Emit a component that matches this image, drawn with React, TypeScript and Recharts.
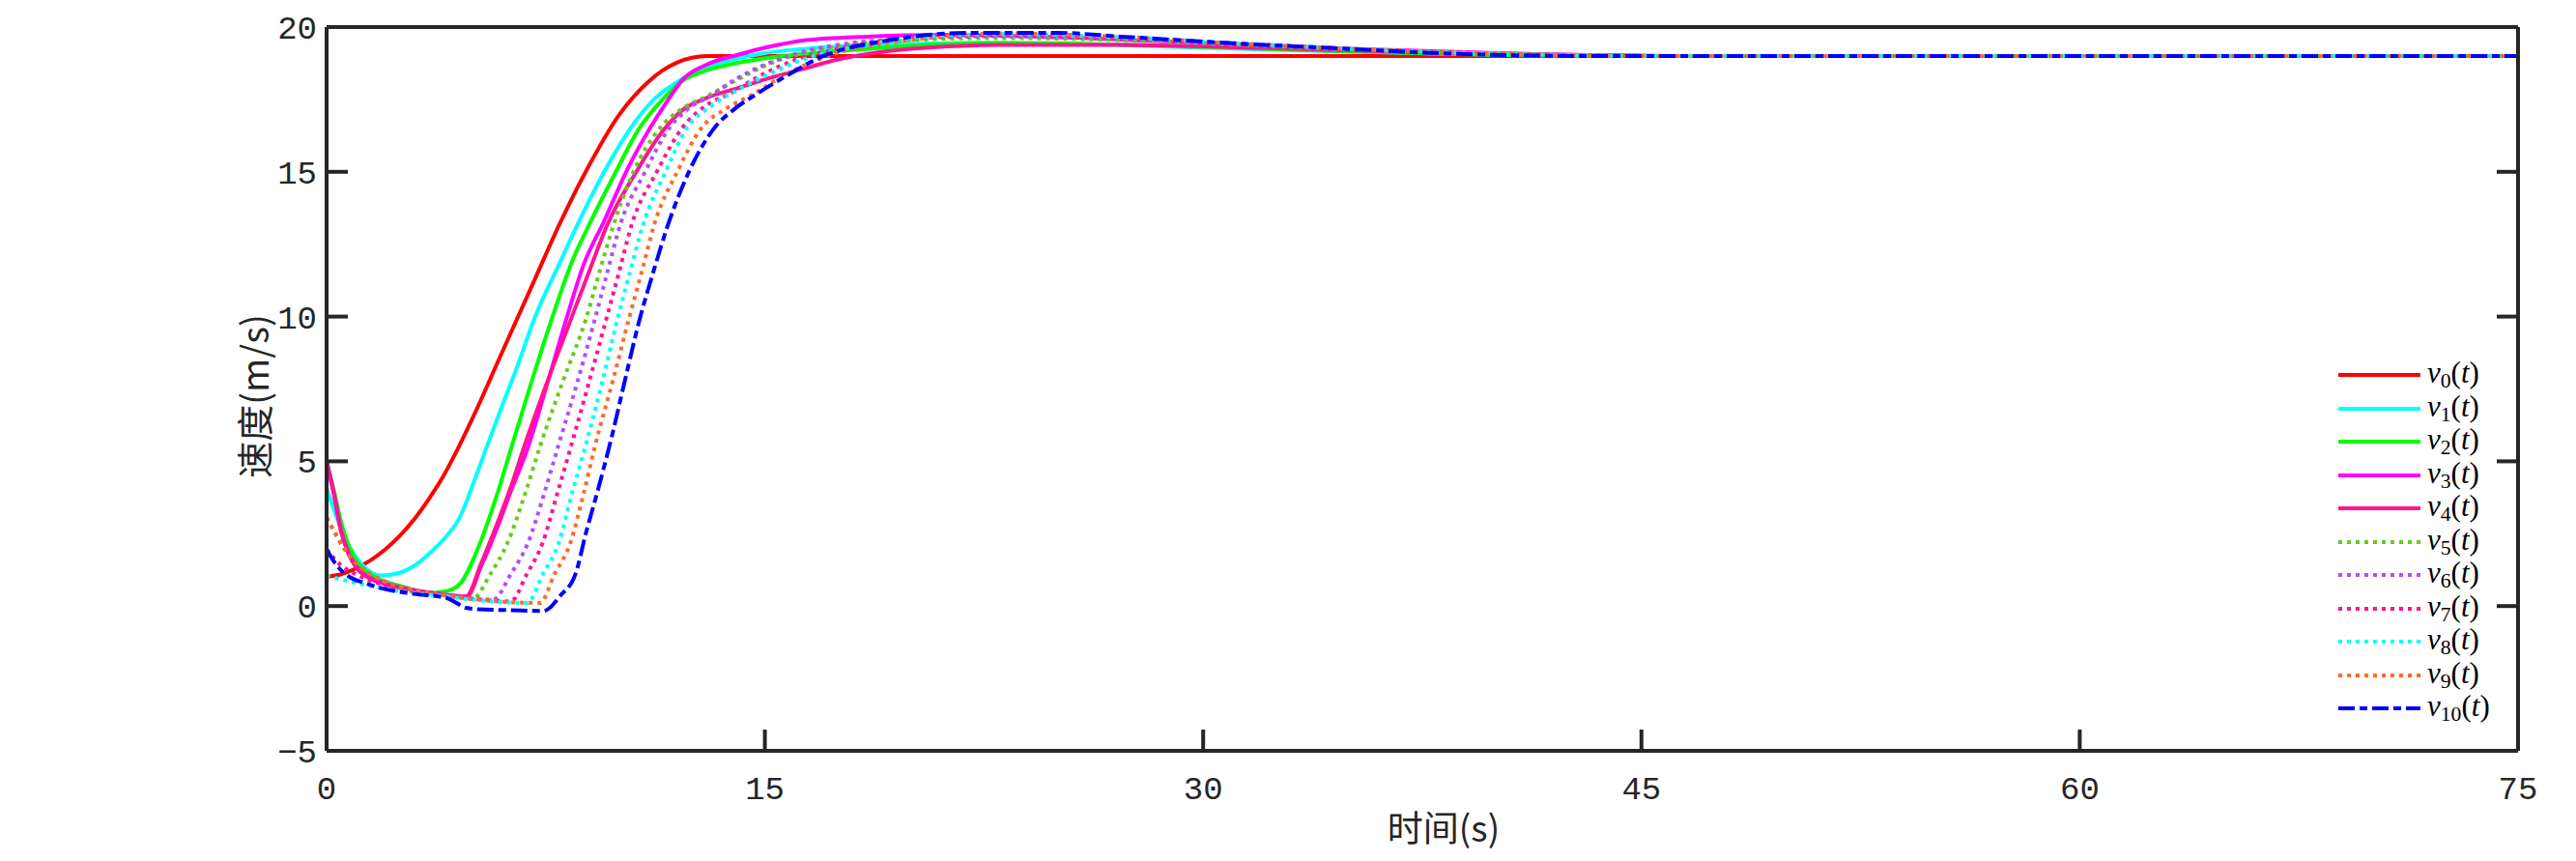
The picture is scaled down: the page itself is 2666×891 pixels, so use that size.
import { LineChart, Line, XAxis, YAxis } from "recharts";

// time (s) / speed (m/s) pairs
const v0: [number, number][] = [
  [0, 1.02], [0.5, 1.1], [1, 1.3], [1.5, 1.58], [2, 1.95], [2.5, 2.42], [3, 3.0], [3.5, 3.7], [4, 4.5],
  [4.5, 5.45], [5, 6.5], [6, 8.75], [7, 11.0], [8, 13.25], [9, 15.25], [10, 16.95], [11, 18.1], [11.5, 18.5],
  [12, 18.78], [12.5, 18.94], [13, 19.0], [75, 19.0],
];
const v1: [number, number][] = [
  [0, 4.06], [0.3, 3.2], [0.6, 2.4], [1, 1.7], [1.4, 1.25], [1.9, 1.06], [2.5, 1.15], [3, 1.39], [3.5, 1.8],
  [4, 2.3], [4.55, 3.05], [5.1, 4.45], [5.5, 5.55], [6, 6.9], [6.5, 8.2], [7.1, 9.9], [8, 11.9], [8.6, 13.2],
  [9.5, 15.0], [10.4, 16.5], [11.2, 17.5], [12, 18.1], [13, 18.6], [14, 18.9], [15, 19.1], [17, 19.3],
  [20, 19.42], [23, 19.45], [28, 19.35], [33, 19.2], [38, 19.08], [45, 19.0], [75, 19.0],
];
const v2: [number, number][] = [
  [0, 5], [0.25, 4.0], [0.5, 2.9], [0.75, 2.1], [1, 1.6], [1.5, 1.1], [2, 0.85], [2.5, 0.7], [3, 0.55],
  [3.5, 0.45], [4, 0.5], [4.3, 0.58], [4.55, 0.75], [5.27, 2.22], [5.88, 4.0], [6.3, 5.4], [7, 7.7], [7.7, 9.9],
  [8.4, 11.9], [9.0, 13.2], [9.9, 15.0], [10.7, 16.5], [11.5, 17.5], [12.2, 18.15], [13, 18.5], [14, 18.75],
  [15.2, 18.95], [17.5, 19.17], [20, 19.35], [23, 19.45], [27, 19.4], [33, 19.22], [38, 19.08], [45, 19.0], [75, 19.0],
];
const v3: [number, number][] = [
  [0, 5], [0.25, 3.9], [0.5, 2.6], [0.75, 1.85], [1, 1.4], [1.5, 0.98], [2, 0.78], [3, 0.55], [4, 0.4],
  [4.8, 0.33], [5.3, 1.4], [5.8, 2.6], [6.3, 3.95], [6.9, 5.5], [7.5, 7.5], [8.2, 9.9], [8.8, 11.8], [9.5, 13.3],
  [10.3, 15.1], [11.1, 16.56], [11.7, 17.5], [12.2, 18.2], [13, 18.7], [14.1, 19.05], [15.2, 19.33],
  [16.4, 19.55], [18.5, 19.67], [21, 19.73], [25, 19.65], [30, 19.45], [35, 19.25], [40, 19.1], [46, 19.0], [75, 19.0],
];
const v4: [number, number][] = [
  [0, 5], [0.25, 3.85], [0.5, 2.55], [0.75, 1.8], [1, 1.35], [1.5, 0.95], [2, 0.75], [3, 0.55], [4, 0.4],
  [4.77, 0.33], [5.3, 1.5], [5.8, 2.75], [6.3, 4.1], [6.76, 5.5], [7.5, 7.6], [8.36, 9.9], [9, 11.6],
  [9.62, 13.2], [10.6, 15.0], [11.5, 16.4], [12.2, 17.15], [13, 17.55], [14.1, 17.9], [15.2, 18.25],
  [16.4, 18.58], [17.5, 18.88], [20, 19.25], [23, 19.38], [27, 19.38], [32, 19.28], [37, 19.14], [42, 19.05],
  [47, 19.0], [75, 19.0],
];
const v5: [number, number][] = [
  [0, 3.06], [0.3, 2.5], [0.6, 2.0], [1, 1.5], [1.5, 1.1], [2, 0.85], [3, 0.55], [4, 0.38], [5, 0.25],
  [5.6, 1.1], [6.2, 2.2], [6.8, 3.9], [7.3, 5.5], [8.1, 7.8], [8.87, 9.9], [9.3, 11.4], [9.8, 13.1],
  [10.5, 15.0], [11.4, 16.5], [12.2, 17.2], [13, 17.6], [14, 18.15], [15.2, 18.75], [17, 19.25], [20, 19.55],
  [23, 19.62], [27, 19.55], [31, 19.4], [35, 19.22], [40, 19.08], [46, 19.0], [75, 19.0],
];
const v6: [number, number][] = [
  [0, 3.06], [0.3, 2.5], [0.6, 2.0], [1, 1.5], [1.5, 1.1], [2, 0.85], [3, 0.55], [4, 0.38], [5, 0.27],
  [5.7, 0.22], [6.3, 1.1], [6.9, 2.2], [7.45, 3.9], [7.92, 5.5], [8.6, 7.8], [9.18, 9.9], [9.6, 11.5],
  [10.06, 13.2], [10.9, 15.0], [11.72, 16.5], [12.4, 17.2], [13.1, 17.6], [14, 18.2], [15.24, 18.8],
  [17, 19.3], [20, 19.6], [23, 19.68], [27, 19.6], [31, 19.42], [35, 19.24], [40, 19.09], [46, 19.0], [75, 19.0],
];
const v7: [number, number][] = [
  [0, 1.96], [0.5, 1.4], [1, 1.1], [2, 0.72], [3, 0.5], [4, 0.38], [5, 0.25], [6.3, 0.16], [6.85, 1.1],
  [7.4, 2.2], [7.9, 3.9], [8.36, 5.5], [9.0, 7.8], [9.57, 9.9], [10.0, 11.5], [10.45, 13.2], [11.3, 15.0],
  [12.16, 16.5], [13.0, 17.3], [13.81, 17.7], [14.8, 18.3], [16, 18.85], [17.5, 19.25], [20, 19.62],
  [23, 19.72], [27, 19.64], [31, 19.44], [35, 19.25], [40, 19.08], [46, 19.0], [75, 19.0],
];
const v8: [number, number][] = [
  [0, 1.06], [0.5, 0.92], [1, 0.8], [2, 0.6], [3, 0.45], [4, 0.35], [5, 0.22], [6.87, 0.11], [7.4, 1.1],
  [7.95, 2.2], [8.4, 3.9], [8.85, 5.5], [9.45, 7.8], [9.95, 9.9], [10.4, 11.6], [10.84, 13.2], [11.6, 15.0],
  [12.32, 16.5], [13.2, 17.3], [14.2, 17.9], [15.2, 18.4], [16.5, 18.95], [18, 19.3], [20, 19.62],
  [23, 19.76], [27, 19.66], [31, 19.45], [35, 19.25], [40, 19.08], [46, 19.0], [75, 19.0],
];
const v9: [number, number][] = [
  [0, 3.06], [0.3, 2.5], [0.6, 2.0], [1, 1.5], [1.5, 1.1], [2, 0.85], [3, 0.55], [4, 0.38], [5, 0.25],
  [6, 0.15], [7.31, 0.11], [7.8, 1.1], [8.35, 2.2], [8.8, 3.9], [9.18, 5.5], [9.8, 7.8], [10.34, 9.9],
  [10.8, 11.6], [11.22, 13.2], [12.0, 15.0], [12.82, 16.5], [13.7, 17.2], [14.58, 17.67], [15.6, 18.3],
  [17, 18.95], [20, 19.55], [23, 19.78], [27, 19.67], [31, 19.44], [35, 19.25], [40, 19.08], [46, 19.0], [75, 19.0],
];
const v10: [number, number][] = [
  [0, 1.96], [0.36, 1.39], [0.8, 1.0], [1.3, 0.8], [1.9, 0.61], [3, 0.42], [4.1, 0.28], [4.44, 0.11],
  [4.77, -0.06], [5.2, -0.11], [6.3, -0.14], [7.42, -0.17], [7.64, -0.06], [7.97, 0.33], [8.52, 1.11],
  [8.87, 2.5], [9.31, 4.1], [9.76, 5.85], [10.2, 7.75], [10.7, 9.85], [11.2, 11.6], [11.66, 13.1], [12.4, 15.0],
  [13.26, 16.5], [14, 17.2], [14.69, 17.67], [15.58, 18.22], [17, 19.0], [19, 19.5], [22, 19.8], [25, 19.8],
  [27.2, 19.67], [31, 19.44], [34.3, 19.28], [38.5, 19.08], [43.6, 19.0], [75, 19.0],
];

const X_TICKS = [0, 15, 30, 45, 60, 75];
const Y_TICKS = [-5, 0, 5, 10, 15, 20];

const SERIES = [
  { id: "0", pts: v0, color: "#ff0000", dash: "" },
  { id: "1", pts: v1, color: "#00ffff", dash: "" },
  { id: "2", pts: v2, color: "#00ff00", dash: "" },
  { id: "3", pts: v3, color: "#ff00ff", dash: "" },
  { id: "4", pts: v4, color: "#ff1493", dash: "" },
  { id: "5", pts: v5, color: "#66cc1a", dash: "4 5" },
  { id: "6", pts: v6, color: "#b24dff", dash: "4 5" },
  { id: "7", pts: v7, color: "#ff1493", dash: "4 5" },
  { id: "8", pts: v8, color: "#00ffff", dash: "4 5" },
  { id: "9", pts: v9, color: "#ff6b2b", dash: "4 5" },
  { id: "10", pts: v10, color: "#0000ff", dash: "17 5 8 5" },
];

const INK = "#262626";
const tickFont = { fontFamily: '"Liberation Mono", monospace', fontSize: 34, fill: INK };
const fmt = (v: number) => (v < 0 ? `\u2212${Math.abs(v)}` : `${v}`);
const frame = { stroke: INK, strokeWidth: 4 };

export default function App() {
  return (
    <div style={{ position: "relative", width: 2650, height: 875, background: "#fff" }}>
      <LineChart width={2650} height={875} margin={{ top: 19, right: 51, bottom: 76, left: 250 }}>
        <XAxis
          type="number"
          dataKey="t"
          domain={[0, 75]}
          ticks={X_TICKS}
          allowDataOverflow
          tickSize={-22}
          tickMargin={48}
          tick={tickFont}
          axisLine={frame}
          tickLine={frame}
        />
        {/* mirrored top axis closes the box */}
        <XAxis
          xAxisId="top"
          orientation="top"
          type="number"
          domain={[0, 75]}
          ticks={X_TICKS}
          allowDataOverflow
          height={1}
          tickSize={-22}
          tickFormatter={() => ""}
          axisLine={frame}
          tickLine={frame}
        />
        <YAxis
          type="number"
          domain={[-5, 20]}
          ticks={Y_TICKS}
          allowDataOverflow
          width={80}
          tickSize={-22}
          tickMargin={32}
          tick={tickFont}
          tickFormatter={fmt}
          axisLine={frame}
          tickLine={frame}
        />
        <YAxis
          yAxisId="r"
          orientation="right"
          type="number"
          domain={[-5, 20]}
          ticks={Y_TICKS}
          allowDataOverflow
          width={1}
          tickSize={-22}
          tickFormatter={() => ""}
          axisLine={frame}
          tickLine={frame}
        />
        {SERIES.map((s) => (
          <Line
            key={s.id}
            data={s.pts.map(([t, v]) => ({ t, v }))}
            dataKey="v"
            type="monotone"
            stroke={s.color}
            strokeWidth={4}
            strokeDasharray={s.dash || undefined}
            dot={false}
            activeDot={false}
            isAnimationActive={false}
          />
        ))}
      </LineChart>

      <div
        style={{
          position: "absolute",
          left: 253,
          top: 402,
          transform: "translate(-50%, -50%) rotate(-90deg)",
          fontFamily: '"Noto Sans CJK SC", sans-serif',
          fontSize: 38,
          color: INK,
          whiteSpace: "nowrap",
        }}
      >
        速度(m/s)
      </div>
      <div
        style={{
          position: "absolute",
          left: 1486,
          top: 847,
          transform: "translate(-50%, -50%)",
          fontFamily: '"Noto Sans CJK SC", sans-serif',
          fontSize: 37,
          color: INK,
          whiteSpace: "nowrap",
        }}
      >
        时间(s)
      </div>

      <div
        style={{
          position: "absolute",
          left: 2412,
          top: 363,
          fontFamily: '"Liberation Serif", serif',
          fontSize: 31,
          color: "#000",
        }}
      >
        {SERIES.map((s) => (
          <div key={s.id} style={{ height: 34.5, display: "flex", alignItems: "center", lineHeight: 1 }}>
            <svg width={85} height={10}>
              <line x1={0} y1={5} x2={85} y2={5} stroke={s.color} strokeWidth={4} strokeDasharray={s.dash || undefined} />
            </svg>
            <span style={{ marginLeft: 7, whiteSpace: "nowrap" }}>
              <i>v</i>
              <sub style={{ fontSize: "0.7em", verticalAlign: "-0.25em" }}>{s.id}</sub>(<i>t</i>)
            </span>
          </div>
        ))}
      </div>
    </div>
  );
}
